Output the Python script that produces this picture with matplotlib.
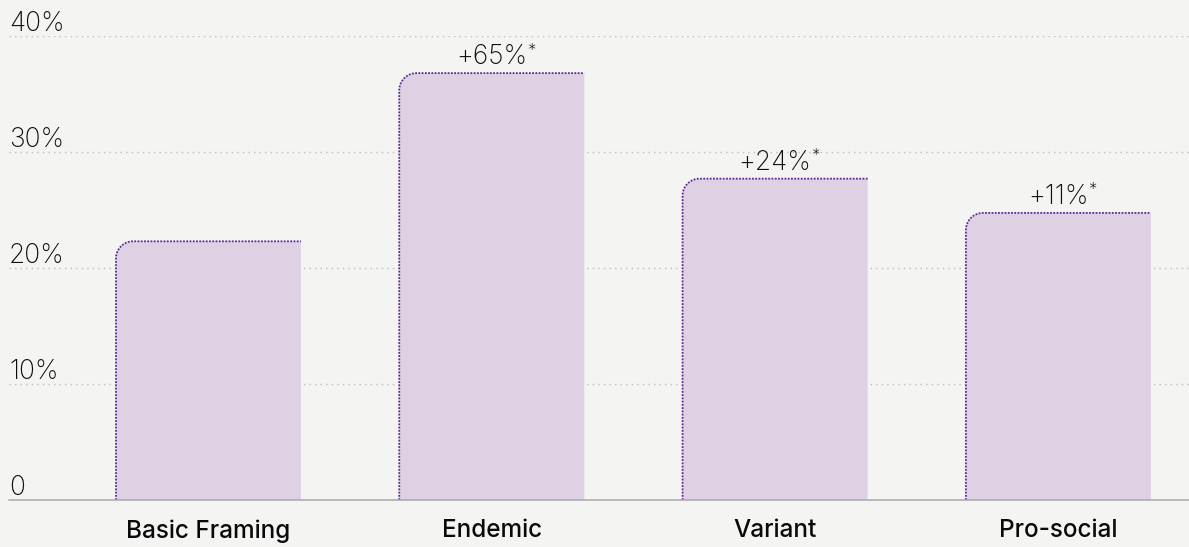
import matplotlib
matplotlib.use("Agg")
import matplotlib.pyplot as plt
from matplotlib.path import Path
from matplotlib.patches import PathPatch

# Share of respondents by message framing
categories = ["Basic Framing", "Endemic", "Variant", "Pro-social"]
shares = [22.3, 36.8, 27.7, 24.75]
lifts = [None, "+65%", "+24%", "+11%"]
y_ticks = [0, 10, 20, 30, 40]
y_tick_labels = ["0", "10%", "20%", "30%", "40%"]

BG = "#f4f4f3"
FILL = "#ddd1e3"
EDGE = "#5a2a98"
GRID = "#bcbcbc"
TEXT = "#0e0e0e"

W, H, DPI = 1189, 547, 100
fig = plt.figure(figsize=(W / DPI, H / DPI), dpi=DPI, facecolor=BG)
ax = fig.add_axes([9 / W, 47 / H, 1 - 9 / W, 464 / H])
ax.set_facecolor(BG)

xmin, xmax = -0.704, 3.461
ymin, ymax = 0, 40
ax.set_xlim(xmin, xmax)
ax.set_ylim(ymin, ymax)

bar_width = 0.653
radius_px = 17
ax_w_px = W * (1 - 9 / W)
ax_h_px = 464
rx = radius_px * (xmax - xmin) / ax_w_px
ry = radius_px * (ymax - ymin) / ax_h_px
k = 0.5523

for i, h in enumerate(shares):
    x0 = i - bar_width / 2
    x1 = i + bar_width / 2
    corner = [(x0, h - ry + ry * k), (x0 + rx - rx * k, h), (x0 + rx, h)]
    fill_verts = [(x0, 0), (x0, h - ry)] + corner + [(x1, h), (x1, 0), (x0, 0)]
    fill_codes = [Path.MOVETO, Path.LINETO, Path.CURVE4, Path.CURVE4, Path.CURVE4,
                  Path.LINETO, Path.LINETO, Path.CLOSEPOLY]
    ax.add_patch(PathPatch(Path(fill_verts, fill_codes), facecolor=FILL,
                           edgecolor="none", zorder=2))
    edge_verts = [(x0, 0), (x0, h - ry)] + corner + [(x1, h)]
    edge_codes = [Path.MOVETO, Path.LINETO, Path.CURVE4, Path.CURVE4, Path.CURVE4,
                  Path.LINETO]
    ax.add_patch(PathPatch(Path(edge_verts, edge_codes), facecolor="none",
                           edgecolor=EDGE, linewidth=1.3, linestyle=(0, (1, 0.8)),
                           zorder=3))
    if lifts[i]:
        t = ax.annotate(lifts[i], xy=(i, h), xytext=(0, 6.5), textcoords="offset points",
                        ha="center", va="baseline", fontsize=19, fontfamily="Inter",
                        fontweight="light", color=TEXT)
        ax.annotate("*", xy=(1, 1), xycoords=t, xytext=(0.5, 1), textcoords="offset points",
                    ha="left", va="top", fontsize=12, fontfamily="Inter",
                    fontweight="light", color=TEXT)

# Horizontal dotted gridlines
ax.set_yticks(y_ticks)
ax.grid(axis="y", color=GRID, linewidth=1, linestyle=(0, (1, 3)), zorder=0)
ax.set_axisbelow(True)
ax.tick_params(axis="y", length=0, labelleft=False)

for v, lab in zip(y_ticks, y_tick_labels):
    ax.annotate(lab, xy=(0, v), xycoords=ax.get_yaxis_transform(), xytext=(0, 3.5),
                textcoords="offset points", ha="left", va="baseline", fontsize=19,
                fontfamily="Inter", fontweight="light", color=TEXT, annotation_clip=False)

ax.set_xticks(range(len(categories)))
ax.set_xticklabels(categories, fontsize=17.5, fontfamily="Inter", fontweight="medium",
                   color="#0a0a0a")
ax.tick_params(axis="x", length=0, pad=14)

for side in ["top", "left", "right"]:
    ax.spines[side].set_visible(False)
ax.spines["bottom"].set_color("#a9a9a9")
ax.spines["bottom"].set_linewidth(1.1)
ax.spines["bottom"].set_zorder(4)

fig.savefig("out.png", dpi=DPI, facecolor=BG)
